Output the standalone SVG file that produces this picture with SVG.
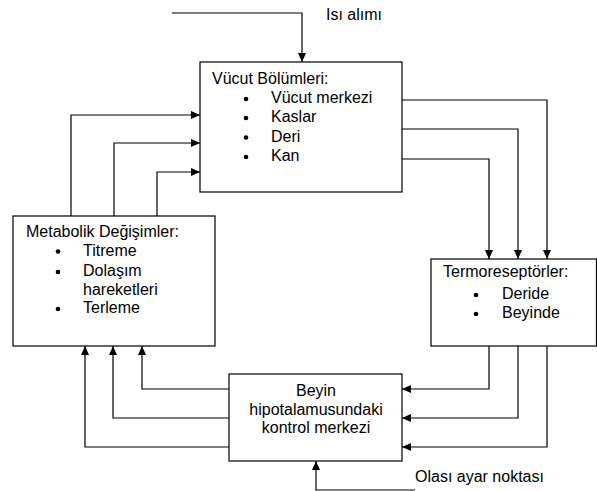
<svg xmlns="http://www.w3.org/2000/svg" width="597" height="491" viewBox="0 0 597 491">
<style>
.box{fill:#fff;stroke:#000;stroke-width:1.2}
.t{font-family:"Liberation Sans",Arial,sans-serif;font-size:16px;fill:#000}
.c{fill:none;stroke:#000;stroke-width:1.2;marker-end:url(#ah)}
.n{fill:none;stroke:#000;stroke-width:1.2}
.b{fill:#000}
</style>
<defs>
<marker id="ah" markerUnits="userSpaceOnUse" markerWidth="10" markerHeight="9" refX="9" refY="4" orient="auto" viewBox="0 0 10 8">
<path d="M0,0 L9,4 L0,8 z" fill="#000"/>
</marker>
</defs>
<g id="connectors">
<polyline class="c" points="172,13 302,13 302,62"/>
<polyline class="c" points="71,216 71,115 200,115"/>
<polyline class="c" points="114,216 114,143 200,143"/>
<polyline class="c" points="157,216 157,172 200,172"/>
<polyline class="c" points="402,100 547,100 547,259"/>
<polyline class="c" points="402,129 518,129 518,259"/>
<polyline class="c" points="402,159 489,159 489,259"/>
<polyline class="c" points="489,346 489,389 402,389"/>
<polyline class="c" points="518,346 518,418 402,418"/>
<polyline class="c" points="547,346 547,447 402,447"/>
<polyline class="c" points="229,389 142,389 142,346"/>
<polyline class="c" points="229,418 113,418 113,346"/>
<polyline class="c" points="229,447 85,447 85,346"/>
<polyline class="c" points="415,490 316,490 316,461"/>
</g>
<g id="isi-alimi">
<text class="t" x="326" y="20">Isı alımı</text>
</g>
<g id="vucut">
<rect class="box" x="200" y="62" width="202" height="130"/>
<text class="t" x="212" y="84">Vücut Bölümleri:</text>
<circle class="b" cx="246" cy="99" r="2.3"/>
<circle class="b" cx="246" cy="118" r="2.3"/>
<circle class="b" cx="246" cy="137.5" r="2.3"/>
<circle class="b" cx="246" cy="157" r="2.3"/>
<text class="t" x="271" y="103">Vücut merkezi</text>
<text class="t" x="271" y="122">Kaslar</text>
<text class="t" x="271" y="141.5">Deri</text>
<text class="t" x="271" y="161">Kan</text>
</g>
<g id="metabolik">
<rect class="box" x="13" y="216" width="202" height="130"/>
<text class="t" x="26" y="237">Metabolik Değişimler:</text>
<circle class="b" cx="58" cy="251.5" r="2.3"/>
<circle class="b" cx="58" cy="272" r="2.3"/>
<circle class="b" cx="58" cy="309" r="2.3"/>
<text class="t" x="83" y="256">Titreme</text>
<text class="t" x="83" y="276">Dolaşım</text>
<text class="t" x="83" y="294.5">hareketleri</text>
<text class="t" x="83" y="313">Terleme</text>
</g>
<g id="termoreseptorler">
<rect class="box" x="431" y="259" width="165.5" height="87"/>
<text class="t" x="443" y="277">Termoreseptörler:</text>
<circle class="b" cx="476" cy="295" r="2.3"/>
<circle class="b" cx="476" cy="314" r="2.3"/>
<text class="t" x="502" y="299">Deride</text>
<text class="t" x="502" y="318">Beyinde</text>
</g>
<g id="beyin">
<rect class="box" x="229" y="374" width="173" height="87"/>
<text class="t" x="316" y="396" text-anchor="middle">Beyin</text>
<text class="t" x="316" y="414.5" text-anchor="middle">hipotalamusundaki</text>
<text class="t" x="316" y="433" text-anchor="middle">kontrol merkezi</text>
</g>
<g id="olasi">
<text class="t" x="415" y="482">Olası ayar noktası</text>
</g>
</svg>
